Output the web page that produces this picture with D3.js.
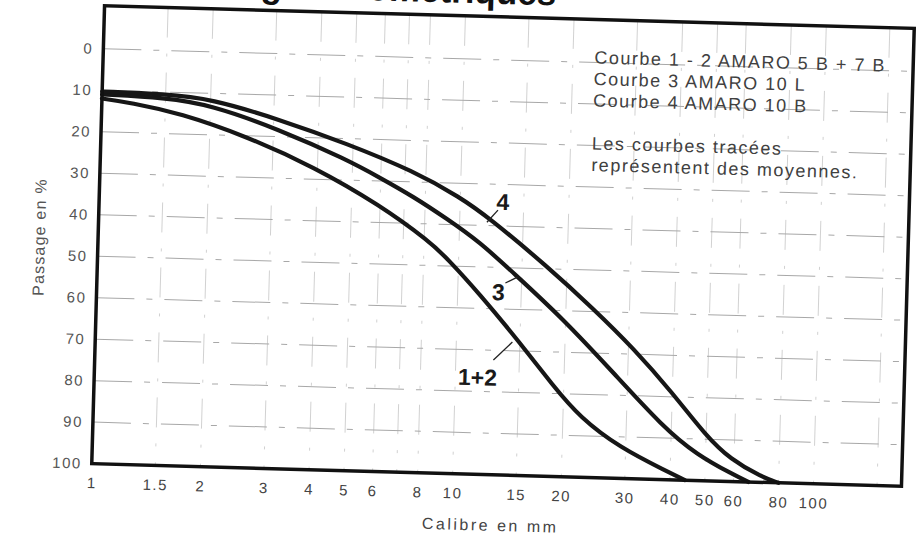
<!DOCTYPE html>
<html><head><meta charset="utf-8">
<script src="https://cdn.jsdelivr.net/npm/d3@7"></script>
<style>
body{margin:0;background:#fff}
svg{display:block}
text{font-family:"Liberation Sans",Arial,Helvetica,sans-serif}
</style>
</head><body>
<svg id="chart" width="923" height="537"></svg>
<script>
// ---- data ----
const titleText = "Courbes granulométriques";
const xTickValues = [1, 1.5, 2, 3, 4, 5, 6, 8, 10, 15, 20, 30, 40, 50, 60, 80, 100];
const yTickValues = [0, 10, 20, 30, 40, 50, 60, 70, 80, 90, 100];
const gridXValues = [1.5, 2, 3, 4, 5, 6, 7, 8, 10, 15, 20, 30, 40, 50, 60, 80, 100, 150];
const gridYValues = [0, 10, 20, 30, 40, 50, 60, 70, 80, 90];

const curve12Size = [1, 1.2, 1.65, 2.54, 3.9, 6, 8.3, 9.3, 11.5, 15, 18.7, 22.3, 28.9, 39.2, 44];
const curve12Pass = [12, 12.8, 15, 20.2, 27, 35.8, 44.3, 48.2, 56.5, 68, 78.2, 85.6, 92.6, 98, 100];

const curve3Size = [1, 1.5, 2, 3.1, 4.8, 6, 7.4, 9.2, 11.4, 14.2, 19.7, 27.3, 37.9, 47.3, 59.8, 66];
const curve3Pass = [11, 11.4, 12.8, 18.2, 25, 29.3, 33.5, 38.6, 44, 51.2, 62, 74.5, 87.3, 93.8, 98.3, 100];

const curve4Size = [1, 1.5, 2, 3.1, 4.8, 7.4, 10, 12, 17.6, 23.8, 31, 40, 50, 58.5, 72, 80];
const curve4Pass = [10.3, 10.5, 11.3, 15.8, 21.2, 27.4, 33.4, 38, 49.4, 59.3, 68.6, 79, 89.2, 94.6, 98.8, 100];

const curveLabels = ["1+2", "3", "4"];
const curveLabelSize = [14.3, 14.6, 11.9];
const curveLabelPass = [67.9, 52.2, 39.2];

const legendLines = [
  "Courbe 1 - 2 AMARO 5 B + 7 B",
  "Courbe 3 AMARO 10 L",
  "Courbe 4 AMARO 10 B",
  "",
  "Les courbes tracées",
  "représentent des moyennes."
];
const xAxisTitle = "Calibre en mm";
const yAxisTitle = "Passage en %";

// ---- drawing ----
const svg = d3.select("#chart");
const g = svg.append("g").attr("transform", "rotate(1.6, 503, 246)");

const frame = {left: 98, right: 908, top: 17, bottom: 475};
const x = d3.scaleLog().domain([1, 100]).range([98, 820]);
const y = d3.scaleLinear().domain([0, 100]).range([60, 475]);

// title (mostly cut off at the top, as in the scan)
g.append("text")
  .attr("x", 102).attr("y", 4)
  .attr("font-size", 35).attr("font-weight", "bold").attr("fill", "#111")
  .text(titleText);

// grid
g.append("g").selectAll("line").data(gridXValues).join("line")
  .attr("x1", d => x(d)).attr("x2", d => x(d))
  .attr("y1", frame.top).attr("y2", frame.bottom)
  .attr("stroke", "#cccccc").attr("stroke-width", 0.9)
  .attr("stroke-dasharray", "30,16,3,16");
g.append("g").selectAll("line").data(gridYValues).join("line")
  .attr("x1", frame.left).attr("x2", frame.right)
  .attr("y1", d => y(d)).attr("y2", d => y(d))
  .attr("stroke", "#a8a8a8").attr("stroke-width", 1)
  .attr("stroke-dasharray", "38,12,6,12");

// axes
const tickFont = "'Liberation Sans', Arial, sans-serif";
const xAxis = d3.axisBottom(x).tickValues(xTickValues).tickSize(0).tickPadding(14)
  .tickFormat(d => String(d));
const xg = g.append("g").attr("transform", `translate(0,${frame.bottom})`).call(xAxis);
xg.select(".domain").remove();
xg.selectAll("text").attr("font-size", 15).attr("fill", "#444")
  .attr("letter-spacing", 1.5).attr("font-family", tickFont);

const yAxis = d3.axisLeft(y).tickValues(yTickValues).tickSize(0).tickPadding(10);
const yg = g.append("g").attr("transform", `translate(${frame.left},0)`).call(yAxis);
yg.select(".domain").remove();
yg.selectAll("text").attr("font-size", 15).attr("fill", "#555")
  .attr("letter-spacing", 1.5).attr("font-family", tickFont);

g.append("text").attr("x", 498).attr("y", 531).attr("text-anchor", "middle")
  .attr("font-size", 16).attr("letter-spacing", 2.5).attr("fill", "#444").text(xAxisTitle);
g.append("text").attr("transform", "translate(45,250) rotate(-90)")
  .attr("text-anchor", "middle").attr("font-size", 16).attr("letter-spacing", 1.2)
  .attr("fill", "#555").text(yAxisTitle);

// curves
const line = d3.line().x(d => x(d[0])).y(d => y(d[1])).curve(d3.curveBasis);
const series = [
  d3.zip(curve12Size, curve12Pass),
  d3.zip(curve3Size, curve3Pass),
  d3.zip(curve4Size, curve4Pass)
];
g.append("g").selectAll("path").data(series).join("path")
  .attr("d", line).attr("fill", "none")
  .attr("stroke", "#161616").attr("stroke-width", 4.2)
  .attr("stroke-linecap", "round");

// curve labels with leader lines
const labelOffsets = [
  {tx: -34, ty: 36, lx: -18.5, ly: 18.5},
  {tx: -18.6, ty: 15.5, lx: -11.9, ly: 6.3},
  {tx: 15.5, ty: -21, lx: 10.7, ly: -12.4}
];
curveLabels.forEach((lab, i) => {
  const ax = x(curveLabelSize[i]), ay = y(curveLabelPass[i]);
  const o = labelOffsets[i];
  g.append("line").attr("x1", ax).attr("y1", ay)
    .attr("x2", ax + o.lx).attr("y2", ay + o.ly)
    .attr("stroke", "#222").attr("stroke-width", 1.3);
  g.append("text").attr("x", ax + o.tx).attr("y", ay + o.ty)
    .attr("dy", "0.36em").attr("text-anchor", "middle")
    .attr("font-size", 23).attr("font-weight", "bold").attr("fill", "#1a1a1a")
    .text(lab);
});

// frame
g.append("rect").attr("x", frame.left).attr("y", frame.top)
  .attr("width", frame.right - frame.left).attr("height", frame.bottom - frame.top)
  .attr("fill", "none").attr("stroke", "#111").attr("stroke-width", 3.5);

// legend / note
g.append("g").selectAll("text").data(legendLines).join("text")
  .attr("x", 589).attr("y", (d, i) => 61 + i * 21.5)
  .attr("font-size", 18).attr("letter-spacing", 1.5).attr("fill", "#404040")
  .text(d => d);
</script>
</body></html>
